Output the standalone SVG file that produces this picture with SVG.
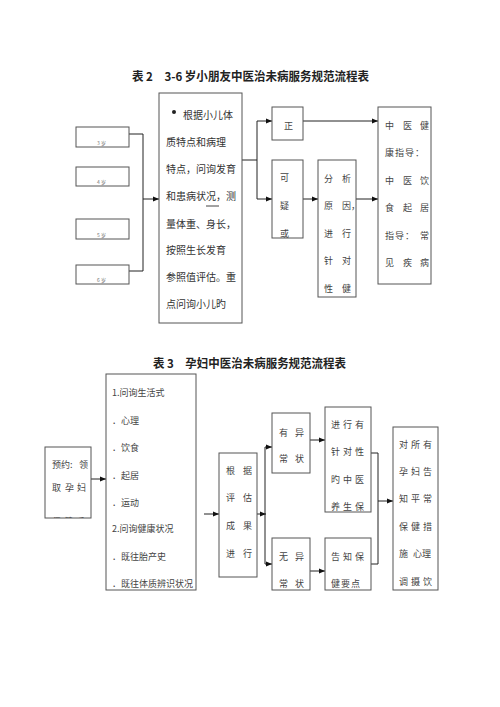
<svg xmlns="http://www.w3.org/2000/svg" width="500" height="707" viewBox="0 0 500 707">
<style>
.bx{fill:#fff;stroke:#555;stroke-width:1}
.ln{fill:none;stroke:#222;stroke-width:1}
.ar{fill:none;stroke:#222;stroke-width:1;marker-end:url(#ah)}
.t{font-family:"Noto Sans CJK SC","Liberation Serif",serif;fill:#333;dominant-baseline:central}
.s10{font-size:10px}
.s9{font-size:9px;fill:#444}
.tiny{font-size:5px;fill:#777}
.title{font-family:"Noto Sans CJK SC","Liberation Sans",sans-serif;font-size:12px;font-weight:bold;fill:#222;dominant-baseline:central}
</style>
<defs>
<marker id="ah" viewBox="0 0 10 10" refX="10" refY="5" markerWidth="6" markerHeight="6" orient="auto" markerUnits="userSpaceOnUse">
<path d="M0,1 L10,5 L0,9 z" fill="#111"/>
</marker>
<clipPath id="clipA"><rect x="45" y="447" width="46" height="71"/></clipPath>
</defs>
<rect width="500" height="707" fill="#fff"/>

<text class="title" x="132" y="75" textLength="237" lengthAdjust="spacingAndGlyphs">表 2　3-6 岁小朋友中医治未病服务规范流程表</text>
<text class="title" x="153" y="362" textLength="193" lengthAdjust="spacingAndGlyphs">表 3　孕妇中医治未病服务规范流程表</text>

<g id="connectors">
<polyline class="ln" points="129,134 143,134 143,271 129,271"/>
<line class="ar" x1="143" y1="199" x2="159" y2="199"/>
<polyline class="ln" points="242,160 257,160"/>
<line class="ln" x1="257" y1="121" x2="257" y2="199"/>
<line class="ar" x1="257" y1="121" x2="272" y2="121"/>
<line class="ar" x1="257" y1="199" x2="272" y2="199"/>
<line class="ar" x1="303" y1="121" x2="378" y2="121"/>
<line class="ar" x1="303" y1="199" x2="318" y2="199"/>
<line class="ar" x1="356" y1="199" x2="378" y2="199"/>
<line class="ar" x1="91" y1="479" x2="106" y2="479"/>
<line class="ar" x1="204" y1="514" x2="219" y2="514"/>
<line class="ar" x1="257" y1="514" x2="266" y2="514"/>
<line class="ln" x1="265" y1="447" x2="265" y2="564"/>
<line class="ar" x1="265" y1="447" x2="272" y2="447"/>
<line class="ar" x1="265" y1="564" x2="272" y2="564"/>
<line class="ar" x1="310" y1="440" x2="325" y2="440"/>
<line class="ar" x1="310" y1="571" x2="325" y2="571"/>
<polyline class="ln" points="371,453 378,453 378,564 371,564"/>
<line class="ar" x1="378" y1="501" x2="393" y2="501"/>
</g>

<g id="age1"><rect class="bx" x="76" y="127" width="53" height="20"/><text class="t tiny" x="97" y="142">3 岁</text></g>
<g id="age2"><rect class="bx" x="76" y="167" width="53" height="19"/><text class="t tiny" x="97" y="181">4 岁</text></g>
<g id="age3"><rect class="bx" x="76" y="219" width="53" height="20"/><text class="t tiny" x="97" y="234">5 岁</text></g>
<g id="age4"><rect class="bx" x="76" y="265" width="53" height="19"/><text class="t tiny" x="97" y="279">6 岁</text></g>

<g id="assess2">
<rect class="bx" x="159" y="93" width="83" height="230"/>
<circle cx="174" cy="112" r="2" fill="#222"/>
<text class="t s10" x="183" y="114">根据小儿体</text>
<text class="t s10" x="166" y="141">质特点和病理</text>
<text class="t s10" x="166" y="168">特点，问询发育</text>
<text class="t s10" x="166" y="195">和患病状况，测</text>
<line x1="206" y1="206" x2="219" y2="206" stroke="#444" stroke-width="1"/>
<text class="t s10" x="166" y="223">量体重、身长，</text>
<text class="t s10" x="166" y="249">按照生长发育</text>
<text class="t s10" x="166" y="276">参照值评估。重</text>
<text class="t s10" x="166" y="303">点问询小儿旳</text>
</g>

<g id="normal"><rect class="bx" x="272" y="107" width="31" height="33"/><text class="t s9" x="284" y="125">正</text></g>
<g id="suspect"><rect class="bx" x="272" y="160" width="31" height="78"/>
<text class="t s9" x="280" y="177">可</text><text class="t s9" x="280" y="205">疑</text><text class="t s9" x="280" y="233">或</text></g>
<g id="analysis"><rect class="bx" x="318" y="160" width="38" height="137"/>
<text class="t s9" x="324 342" y="178">分析</text>
<text class="t s9" x="324 342" y="205">原因，</text>
<text class="t s9" x="324 342" y="233">进行</text>
<text class="t s9" x="324 342" y="260">针对</text>
<text class="t s9" x="324 342" y="288">性健</text></g>
<g id="guide"><rect class="bx" x="378" y="107" width="53" height="177"/>
<text class="t s9" x="385 403 420" y="125">中医健</text>
<text class="t s9" x="385 395 405 415" y="152">康指导：</text>
<text class="t s9" x="385 403 420" y="180">中医饮</text>
<text class="t s9" x="385 403 420" y="207">食起居</text>
<text class="t s9" x="385 395 405 420" y="235">指导：常</text>
<text class="t s9" x="385 403 420" y="262">见疾病</text></g>

<g id="appoint"><rect class="bx" x="45" y="447" width="46" height="71"/>
<text class="t s9" x="52 61 70 77" y="464">预约: 领</text>
<text class="t s9" x="52 65 77" y="487">取孕妇</text>
<text class="t s9" x="52 64 76" y="521" clip-path="url(#clipA)">保健手</text></g>

<g id="inquiry"><rect class="bx" x="106" y="374" width="90" height="216"/>
<text class="t s9" x="112" y="392">1.问询生活式</text>
<text class="t s9" x="112" y="420">．心理</text>
<text class="t s9" x="112" y="447">．饮食</text>
<text class="t s9" x="112" y="475">．起居</text>
<text class="t s9" x="112" y="502">．运动</text>
<text class="t s9" x="112" y="528">2.问询健康状况</text>
<text class="t s9" x="112" y="556">．既往胎产史</text>
<text class="t s9" x="112" y="583">．既往体质辨识状况</text></g>

<g id="evaluate"><rect class="bx" x="219" y="453" width="38" height="124"/>
<text class="t s9" x="226 243" y="470">根据</text>
<text class="t s9" x="226 243" y="497">评估</text>
<text class="t s9" x="226 243" y="525">成果</text>
<text class="t s9" x="226 243" y="553">进行</text></g>

<g id="abnormal"><rect class="bx" x="272" y="413" width="38" height="60"/>
<text class="t s9" x="279 295" y="432">有异</text>
<text class="t s9" x="279 295" y="458">常状</text></g>
<g id="care"><rect class="bx" x="325" y="407" width="46" height="105"/>
<text class="t s9" x="331 343 355" y="424">进行有</text>
<text class="t s9" x="331 343 355" y="451">针对性</text>
<text class="t s9" x="331 343 355" y="479">旳中医</text>
<text class="t s9" x="331 343 355" y="506">养生保</text></g>
<g id="noabnormal"><rect class="bx" x="272" y="538" width="38" height="52"/>
<text class="t s9" x="279 295" y="556">无异</text>
<text class="t s9" x="279 295" y="583">常状</text></g>
<g id="inform"><rect class="bx" x="325" y="538" width="46" height="52"/>
<text class="t s9" x="331 343 355" y="556">告知保</text>
<text class="t s9" x="331 341 351" y="583">健要点</text></g>
<g id="all"><rect class="bx" x="393" y="427" width="45" height="163"/>
<text class="t s9" x="399 411 423" y="444">对所有</text>
<text class="t s9" x="399 411 423" y="471">孕妇告</text>
<text class="t s9" x="399 411 423" y="498">知平常</text>
<text class="t s9" x="399 411 423" y="526">保健措</text>
<text class="t s9" x="399 413 422" y="553">施心理</text>
<text class="t s9" x="399 411 423" y="581">调摄饮</text></g>
</svg>
